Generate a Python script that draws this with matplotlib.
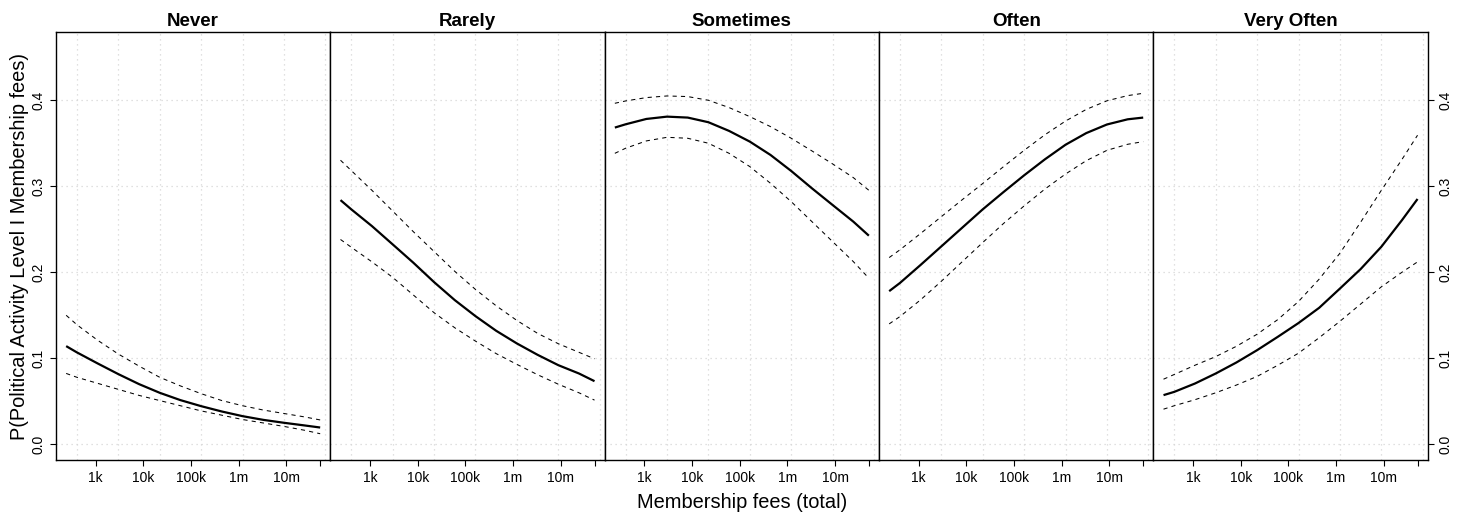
import matplotlib
matplotlib.use("Agg")
import matplotlib.pyplot as plt
import numpy as np

plt.rcParams['font.family'] = ['Liberation Sans', 'DejaVu Sans']

# x values are log(fees); one row of points per curve
feeLog = [5.48, 6, 7, 8, 9, 10, 11, 12, 13, 14, 15, 16, 17, 17.75]

panelNames = ['Never', 'Rarely', 'Sometimes', 'Often', 'Very Often']

neverFit = [0.1142, 0.1069, 0.0941, 0.0817, 0.0701, 0.0600, 0.0515, 0.0445, 0.0383, 0.0329, 0.0286, 0.0252, 0.0221, 0.0197]
neverHi = [0.150, 0.139, 0.121, 0.105, 0.091, 0.078, 0.068, 0.059, 0.051, 0.045, 0.040, 0.036, 0.032, 0.0285]
neverLo = [0.0825, 0.078, 0.071, 0.064, 0.057, 0.051, 0.045, 0.039, 0.034, 0.029, 0.025, 0.021, 0.0165, 0.0125]

rarelyFit = [0.2837, 0.273, 0.2535, 0.2323, 0.211, 0.1885, 0.1676, 0.149, 0.132, 0.1173, 0.1041, 0.0921, 0.0824, 0.0735]
rarelyHi = [0.330, 0.318, 0.295, 0.271, 0.247, 0.224, 0.201, 0.180, 0.161, 0.144, 0.129, 0.117, 0.107, 0.0995]
rarelyLo = [0.238, 0.229, 0.212, 0.194, 0.1735, 0.153, 0.1355, 0.120, 0.1055, 0.093, 0.081, 0.070, 0.060, 0.0515]

sometimesFit = [0.3679, 0.3717, 0.3779, 0.3806, 0.3795, 0.3741, 0.364, 0.3516, 0.3361, 0.3175, 0.2974, 0.278, 0.2587, 0.2424]
sometimesHi = [0.3961, 0.3988, 0.4027, 0.4046, 0.4039, 0.3996, 0.3911, 0.3806, 0.369, 0.3555, 0.3408, 0.3257, 0.3098, 0.2951]
sometimesLo = [0.338, 0.3439, 0.3524, 0.3566, 0.3555, 0.3497, 0.338, 0.3226, 0.3032, 0.2819, 0.2587, 0.2355, 0.2123, 0.193]

oftenFit = [0.178, 0.1875, 0.2085, 0.230, 0.2515, 0.273, 0.293, 0.3125, 0.331, 0.348, 0.3615, 0.3715, 0.3775, 0.3795]
oftenHi = [0.217, 0.226, 0.245, 0.2645, 0.284, 0.303, 0.3225, 0.3415, 0.3595, 0.3755, 0.389, 0.399, 0.405, 0.4077]
oftenLo = [0.140, 0.1485, 0.168, 0.1895, 0.212, 0.2345, 0.2565, 0.277, 0.2965, 0.314, 0.3295, 0.3415, 0.3485, 0.3516]

veryOftenFit = [0.0573, 0.0611, 0.0708, 0.0824, 0.0952, 0.1095, 0.125, 0.141, 0.1587, 0.181, 0.2036, 0.2295, 0.2605, 0.285]
veryOftenHi = [0.0758, 0.0813, 0.092, 0.102, 0.114, 0.128, 0.145, 0.166, 0.192, 0.222, 0.258, 0.295, 0.331, 0.359]
veryOftenLo = [0.041, 0.045, 0.052, 0.060, 0.069, 0.079, 0.092, 0.106, 0.124, 0.143, 0.163, 0.183, 0.200, 0.212]

fitList = [neverFit, rarelyFit, sometimesFit, oftenFit, veryOftenFit]
hiList = [neverHi, rarelyHi, sometimesHi, oftenHi, veryOftenHi]
loList = [neverLo, rarelyLo, sometimesLo, oftenLo, veryOftenLo]

tickValues = [1e3, 1e4, 1e5, 1e6, 1e7]
tickLabels = ['1k', '10k', '100k', '1m', '10m']
yTicks = [0.0, 0.1, 0.2, 0.3, 0.4]

W, H = 1464, 516
fig = plt.figure(figsize=(W / 100, H / 100), dpi=100)

left, right, top, bottom = 56, 1427.7, 32.3, 460
panelW = (right - left) / 5
xLo, xHi = min(feeLog), max(feeLog)
xPad = 0.04 * (xHi - xLo)
gridColor = '#d6d6d6'

for i, name in enumerate(panelNames):
    ax = fig.add_axes([(left + i * panelW) / W, (H - bottom) / H, panelW / W, (bottom - top) / H])
    ax.set_xlim(xLo - xPad, xHi + xPad)
    ax.set_ylim(-0.018, 0.4785)

    # lattice style grid: every 2 log units on x
    for gx in range(6, 19, 2):
        ax.axvline(gx, color=gridColor, lw=0.9, ls=(0, (1, 3)), zorder=0)
    for gy in yTicks:
        ax.axhline(gy, color=gridColor, lw=0.9, ls=(0, (1, 3)), zorder=0)

    ax.plot(feeLog, fitList[i], color='black', lw=1.6, solid_capstyle='butt')
    ax.plot(feeLog, hiList[i], color='black', lw=0.75, ls=(0, (4, 4)))
    ax.plot(feeLog, loList[i], color='black', lw=0.75, ls=(0, (4, 4)))

    ax.set_title(name, fontsize=13.5, fontweight='bold', pad=4.5)

    xt = list(np.log(tickValues)) + [xHi]
    ax.set_xticks(xt)
    ax.set_xticklabels(tickLabels + [''], fontsize=10)
    ax.tick_params(axis='x', direction='out', length=4.3, width=0.8, pad=3.5)

    ax.set_yticks(yTicks)
    ax.set_yticklabels(['%.1f' % v for v in yTicks], fontsize=10, rotation=90, va='center')
    if i == 0:
        ax.tick_params(axis='y', direction='out', length=4.3, width=0.8, pad=3.5,
                       left=True, labelleft=True, right=False, labelright=False)
    elif i == 4:
        ax.tick_params(axis='y', direction='out', length=4.3, width=0.8, pad=3.5,
                       left=False, labelleft=False, right=True, labelright=True)
    else:
        ax.tick_params(axis='y', left=False, labelleft=False)

    for sp in ax.spines.values():
        sp.set_linewidth(1.0)
        sp.set_color('black')

fig.text((left + right) / 2 / W, 1 - 503 / H, 'Membership fees (total)', fontsize=14.4,
         ha='center', va='center')
fig.text(20 / W, 1 - 246 / H, 'P(Political Activity Level I Membership fees)', fontsize=14.4,
         ha='center', va='center', rotation=90)

fig.savefig('out.png', dpi=100)
